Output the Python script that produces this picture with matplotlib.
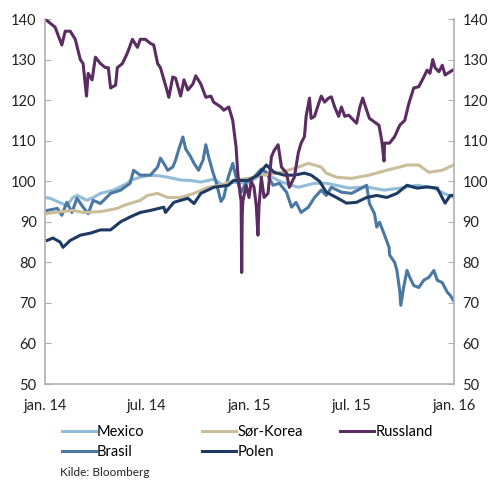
import numpy as np
import pandas as pd
import matplotlib
matplotlib.use("Agg")
import matplotlib.pyplot as plt

plt.rcParams['font.family'] = ['Lato', 'DejaVu Sans']

start = pd.Timestamp("2014-01-01")

# days since 1 jan 2014, index values
mexico_days = [0, 9, 22, 39, 50, 57, 75, 86, 99, 122, 147, 152, 170, 188, 206, 219, 242, 260,
               278, 301, 318, 332, 362, 391, 422, 452, 481, 502, 544, 574, 605, 633, 664, 694,
               712, 729]
mexico = [96, 95.8, 95, 94, 96, 96.5, 95.3, 96, 97, 97.8, 99.5, 100.2, 101, 101.5, 101.3, 101,
          100.3, 100.2, 99.8, 100.5, 99, 99.8, 99.5, 102, 99.8, 98.5, 99.5, 99.5, 98.3, 98.6,
          97.8, 98.3, 99, 98.3, 97, 96]

brasil_days = [4, 22, 30, 39, 48, 57, 68, 77, 86, 99, 117, 135, 152, 158, 170, 188, 201, 206,
               212, 219, 228, 233, 239, 246, 251, 260, 266, 274, 282, 287, 292, 300, 305, 314,
               319, 327, 335, 341, 350, 359, 371, 386, 395, 407, 418, 431, 440, 448, 457, 470,
               481, 493, 502, 511, 529, 547, 565, 574, 579, 588, 592, 597, 606, 614, 615, 624,
               628, 633, 635, 640, 646, 651, 658, 667, 676, 685, 694, 700, 709, 718, 723, 729]
brasil = [92.8, 93.3, 91.6, 94.8, 92.3, 95.8, 93.6, 92, 95.3, 94.5, 97, 97.8, 99.5, 102.7,
          101.5, 101.5, 103.5, 105.7, 104.4, 102.7, 103.5, 105.2, 108, 110.9, 108, 106, 104.4,
          102.7, 105.2, 109, 106, 102, 100, 95, 96, 101, 104.4, 101, 97.3, 99.8, 100.7, 103,
          102.2, 99, 99.5, 97.3, 93.6, 94.8, 92.3, 93.6, 96, 97.8, 96.5, 98.5, 97.3, 97, 98.3,
          99, 94.5, 92, 88.7, 89.9, 86.7, 83.7, 81.8, 80, 78, 73, 69.4, 73.8, 78, 76.3, 74.3,
          73.8, 75.6, 76.3, 78, 75.6, 75, 72.6, 71.9, 70.6]

korea_days = [0, 30, 50, 68, 99, 129, 140, 170, 183, 201, 219, 242, 266, 291, 314, 337, 362,
              391, 422, 452, 470, 493, 502, 520, 547, 578, 610, 633, 646, 667, 685, 709, 729]
korea = [92, 92.5, 92.8, 92.3, 92.5, 93.3, 94, 95.3, 96.5, 97, 96, 96, 97, 98.5, 99, 100.2,
         100.7, 101.5, 102.2, 103.5, 104.4, 103.5, 102, 101, 100.7, 101.5, 102.7, 103.5, 104,
         104, 102.2, 102.7, 104]

polen_days = [4, 14, 27, 32, 45, 63, 81, 99, 117, 135, 152, 170, 188, 212, 215, 230, 255, 266,
              278, 301, 327, 337, 350, 362, 380, 395, 409, 427, 445, 463, 475, 490, 502, 520,
              538, 556, 574, 592, 610, 628, 646, 664, 682, 700, 714, 723, 729]
polen = [85.4, 86, 85, 83.7, 85.4, 86.7, 87.2, 88, 88, 90, 91.2, 92.3, 92.8, 93.6, 92.3, 94.8,
         95.8, 94.5, 97, 98.5, 99, 100.2, 100.2, 100.2, 101.5, 104, 102.2, 101.5, 101.5, 102,
         101.5, 100, 97.3, 96, 94.6, 94.8, 96, 96.5, 96, 97, 99, 98.3, 98.6, 98.3, 94.6, 96.5,
         96.5]

russland_days = [0, 18, 30, 36, 45, 54, 63, 68, 74, 77, 84, 90, 99, 108, 113, 117, 126, 129,
                 138, 147, 156, 165, 170, 179, 188, 194, 201, 206, 215, 221, 228, 233, 242, 248,
                 255, 264, 269, 278, 287, 296, 301, 314, 319, 328, 335, 341, 344, 348, 350, 351,
                 352, 353, 359, 364, 368, 373, 377, 380, 382, 386, 391, 398, 404, 409, 416, 422,
                 431, 436, 445, 452, 457, 463, 466, 472, 475, 481, 488, 493, 499, 506, 511, 517,
                 524, 529, 535, 542, 551, 556, 562, 567, 574, 579, 588, 596, 601, 605, 606, 615,
                 624, 633, 642, 649, 658, 667, 676, 682, 687, 692, 696, 703, 709, 714, 723, 729]
russland = [140, 138, 133.6, 137, 137, 135, 130, 129, 121, 126.6, 125, 130.6, 129, 128, 128,
            123, 123.7, 128, 129, 131.6, 135, 133, 135, 135, 134, 133.6, 129, 128, 123.7, 120.7,
            125.7, 125.4, 121, 125, 122.5, 124, 126, 124, 120.7, 121, 119.5, 118.3, 117.5,
            118.3, 115, 108.4, 102, 97, 95, 77.5, 92, 95, 99, 96, 100, 98.5, 94, 86.7, 94, 101,
            96, 97, 106, 107.6, 109, 103.5, 102, 98.5, 101, 107, 109.4, 111, 116, 120.5, 115.5,
            116, 119, 121, 119.5, 120.5, 120.8, 118.3, 116, 118.3, 116, 116.3, 115, 114.3,
            118.3, 120.5, 117.5, 115.5, 114.6, 113.8, 110, 105, 109.4, 109.4, 111, 113.8, 115,
            119, 123, 123.3, 125.7, 127.4, 126.6, 130, 128, 127, 128.6, 126.2, 127, 127.5]

tick_dates = ["2014-01-01", "2014-07-01", "2015-01-01", "2015-07-01", "2016-01-01"]
tick_labels = ["jan. 14", "jul. 14", "jan. 15", "jul. 15", "jan. 16"]


def to_dates(days):
    return start + pd.to_timedelta(days, unit="D")


fig = plt.figure(figsize=(4.93, 4.84), dpi=100)
ax = fig.add_axes([0.0913, 0.2066, 0.8297, 0.7541])

lw = 2.2
l_mex, = ax.plot(to_dates(mexico_days), mexico, color="#93bcd8", lw=lw, label="Mexico")
l_bra, = ax.plot(to_dates(brasil_days), brasil, color="#4a78a2", lw=lw, label="Brasil")
l_kor, = ax.plot(to_dates(korea_days), korea, color="#c9bd9a", lw=lw, label="Sør-Korea")
l_pol, = ax.plot(to_dates(polen_days), polen, color="#1e3a64", lw=lw, label="Polen")
l_rus, = ax.plot(to_dates(russland_days), russland, color="#5b2c62", lw=lw, label="Russland")

ax.set_xlim(pd.Timestamp("2014-01-01"), pd.Timestamp("2016-01-01"))
ax.set_ylim(50, 140)
ax.set_yticks(range(50, 141, 10))
ax.set_xticks(pd.to_datetime(tick_dates))
ax.set_xticklabels(tick_labels)

ax.spines["top"].set_visible(False)
for s in ["left", "right", "bottom"]:
    ax.spines[s].set_color("#b0b0b0")
    ax.spines[s].set_linewidth(1.2)

ax.tick_params(axis="y", direction="in", length=4, color="#b0b0b0", labelsize=10.5,
               labelcolor="#222222", left=True, right=True, labelleft=True, labelright=True,
               pad=6)
ax.tick_params(axis="x", length=0, labelsize=10.5, labelcolor="#222222", pad=11)

# legend: three fixed-width columns
columns = [([l_mex, l_bra], 0.126), ([l_kor, l_pol], 0.410), ([l_rus], 0.690)]
for handles, x0 in columns:
    fig.legend(handles=handles, frameon=False, loc="upper left",
               bbox_to_anchor=(x0, 0.122), fontsize=10.5, handlelength=2.3,
               handletextpad=0.1, labelspacing=0.4, borderaxespad=0, borderpad=0)

fig.text(0.122, 0.024, "Kilde: Bloomberg", fontsize=8.5, color="#222222", va="center")

fig.savefig("out.png", dpi=100)
